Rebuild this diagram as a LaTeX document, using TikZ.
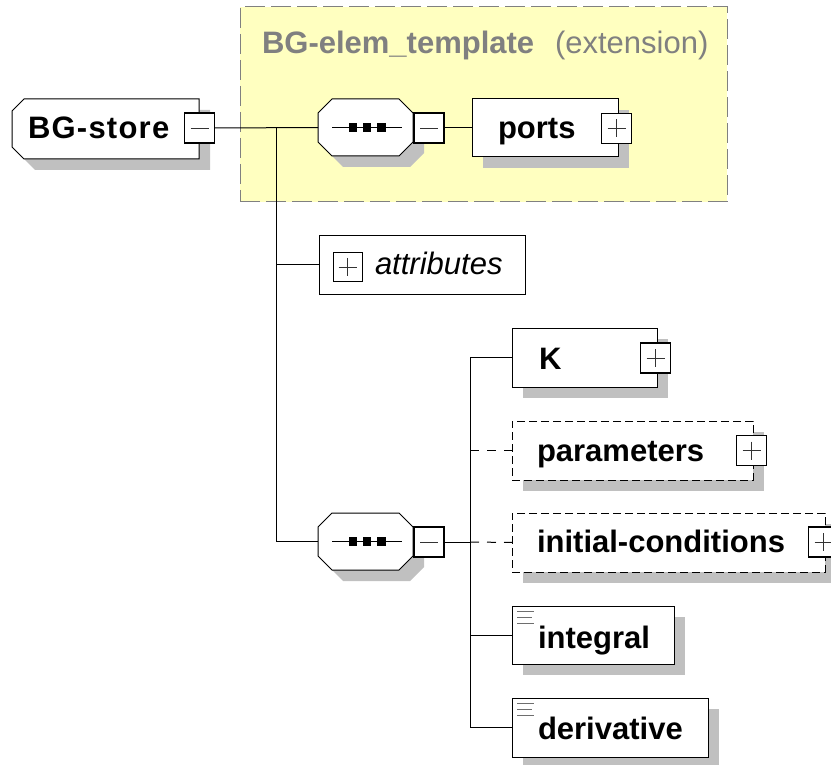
\documentclass[tikz,border=0pt]{standalone}
\usepackage{fontspec}
\setmainfont{Liberation Sans}
\usetikzlibrary{calc,shadows}
\definecolor{shadowgray}{RGB}{192,192,192}
\definecolor{extyellow}{RGB}{255,255,192}
\definecolor{titlegray}{RGB}{128,128,128}
\definecolor{iconline}{RGB}{110,110,110}
\newcommand\myoctagon[3]{% name, cut-left, cut-right
  ($(#1.north west)+(#2,0)$) -- ($(#1.north east)+(-#3,0)$) -- ($(#1.north east)+(0,#3)$) --
  ($(#1.south east)+(0,-#3)$) -- ($(#1.south east)+(-#3,0)$) -- ($(#1.south west)+(#2,0)$) --
  ($(#1.south west)+(0,-#2)$) -- ($(#1.north west)+(0,#2)$) -- cycle}
\begin{document}
\begin{tikzpicture}[x=1pt,y=-1pt,
  every node/.style={inner sep=0pt,outer sep=0pt},
  frame/.style={rectangle,draw=none,anchor=north west},
  elem/.style={rectangle,draw=black,line width=1pt,fill=white,anchor=north west},
  optelem/.style={elem,dash pattern=on 8pt off 4pt},
  shad/.style={general shadow={fill=shadowgray,shadow xshift=11pt,shadow yshift=-11pt}},
  octa/.style={draw=black,line width=1pt,fill=white,shad},
  smallbox/.style={rectangle,draw=black,line width=1.4pt,fill=white,minimum width=30pt,minimum height=30pt},
  sign/.style={line width=0.8pt,black!80},
  txt/.style={anchor=base west,font=\fontsize{31}{37}\selectfont\bfseries},
  conn/.style={line width=1pt,black},
  optconn/.style={conn,dash pattern=on 9pt off 8pt},
  dot/.style={fill=black,minimum width=8.5pt,minimum height=8.5pt,rectangle}
]
\useasboundingbox (0,0) rectangle (831,765);
\clip (0,0) rectangle (831,765);
\fill[white] (0,0) rectangle (831,765);

% extension area
\node[frame,fill=extyellow,draw=titlegray,line width=1pt,dash pattern=on 20pt off 6pt,
      minimum width=487pt,minimum height=195pt] (ext) at (240,7) {};
\node[txt,text=titlegray] (exttitle) at (262,54) {BG-elem\_template};
\node[txt,text=titlegray,font=\fontsize{31}{37}\selectfont] (extkind) at (555,54) {(extension)};

% BG-store
\node[frame,minimum width=187pt,minimum height=60pt] (store) at (12,99) {};
\filldraw[octa] \myoctagon{store}{12}{0};
\node[txt] (storetxt) at (28,139) {\addfontfeatures{LetterSpace=4}BG-store};
\node[smallbox] (storem) at (199.5,128) {};
\draw[sign] ($(storem.center)+(-9,0)$) -- ($(storem.center)+(9,0)$);

% top sequence
\node[frame,minimum width=95pt,minimum height=57pt] (seq1) at (318,99) {};
\filldraw[octa] \myoctagon{seq1}{14}{14};
\draw[line width=1pt] ($(seq1.west)+(14,0)$) -- ($(seq1.east)+(-11,0)$);
\node[dot] (s1a) at (353,127.5) {};
\node[dot] (s1b) at (367,127.5) {};
\node[dot] (s1c) at (381.5,127.5) {};
\node[smallbox] (seq1m) at (429,128) {};
\draw[sign] ($(seq1m.center)+(-9,0)$) -- ($(seq1m.center)+(9,0)$);

% ports
\node[elem,shad,minimum width=146pt,minimum height=58pt] (ports) at (472,99) {};
\node[txt] (portstxt) at (498,139) {ports};
\node[smallbox] (portsp) at (616.5,128.5) {};
\draw[sign] ($(portsp.center)+(-9,0)$) -- ($(portsp.center)+(9,0)$);
\draw[sign] ($(portsp.center)+(0,-9)$) -- ($(portsp.center)+(0,9)$);

% attributes
\node[elem,minimum width=206pt,minimum height=58pt] (attr) at (319,236) {};
\node[smallbox,line width=1pt,minimum width=29pt,minimum height=28pt] (attrp) at (347.5,267) {};
\draw[sign] ($(attrp.center)+(-9,0)$) -- ($(attrp.center)+(9,0)$);
\draw[sign] ($(attrp.center)+(0,-9)$) -- ($(attrp.center)+(0,9)$);
\node[txt,font=\fontsize{31}{37}\selectfont\itshape] (attrtxt) at (375,274) {attributes};

% bottom sequence
\node[frame,minimum width=95pt,minimum height=57pt] (seq2) at (318,513) {};
\filldraw[octa] \myoctagon{seq2}{14}{14};
\draw[line width=1pt] ($(seq2.west)+(14,0)$) -- ($(seq2.east)+(-11,0)$);
\node[dot] (s2a) at (353,541.5) {};
\node[dot] (s2b) at (367,541.5) {};
\node[dot] (s2c) at (381.5,541.5) {};
\node[smallbox] (seq2m) at (429,542) {};
\draw[sign] ($(seq2m.center)+(-9,0)$) -- ($(seq2m.center)+(9,0)$);

% K
\node[elem,shad,minimum width=145pt,minimum height=59pt] (K) at (512,328) {};
\node[txt] (Ktxt) at (539,369) {K};
\node[smallbox] (Kp) at (655.5,358) {};
\draw[sign] ($(Kp.center)+(-9,0)$) -- ($(Kp.center)+(9,0)$);
\draw[sign] ($(Kp.center)+(0,-9)$) -- ($(Kp.center)+(0,9)$);

% parameters
\node[optelem,shad,minimum width=241pt,minimum height=59pt] (param) at (512,421) {};
\node[txt] (paramtxt) at (537,461) {parameters};
\node[smallbox] (paramp) at (751.5,450.5) {};
\draw[sign] ($(paramp.center)+(-9,0)$) -- ($(paramp.center)+(9,0)$);
\draw[sign] ($(paramp.center)+(0,-9)$) -- ($(paramp.center)+(0,9)$);

% initial-conditions
\node[optelem,shad,minimum width=313pt,minimum height=59pt] (init) at (512,513) {};
\node[txt] (inittxt) at (537,552) {initial-conditions};
\node[smallbox] (initp) at (823.5,542) {};
\draw[sign] ($(initp.center)+(-9,0)$) -- ($(initp.center)+(9,0)$);
\draw[sign] ($(initp.center)+(0,-9)$) -- ($(initp.center)+(0,9)$);

% integral
\node[elem,shad,minimum width=162pt,minimum height=58pt] (integ) at (512,606) {};
\node[txt] (integtxt) at (538,648) {integral};
\draw[iconline,line width=1pt] ($(integ.north west)+(5,5)$) -- +(17,0)
  ($(integ.north west)+(5,11)$) -- +(15,0) ($(integ.north west)+(5,17)$) -- +(17,0);

% derivative
\node[elem,shad,minimum width=196pt,minimum height=59pt] (deriv) at (512,698) {};
\node[txt] (derivtxt) at (538,739) {derivative};
\draw[iconline,line width=1pt] ($(deriv.north west)+(5,5)$) -- +(17,0)
  ($(deriv.north west)+(5,11)$) -- +(15,0) ($(deriv.north west)+(5,17)$) -- +(17,0);

% connectors
\coordinate (j1) at (276,128);
\coordinate (j2) at (470,542);
\draw[conn] (storem.east) -- (seq1.west);
\draw[conn] (seq1m.east) -- (ports.west);
\draw[conn] (j1) |- (seq2.west);
\draw[conn] (j1) |- (attr.west);
\draw[conn] (seq2m.east) -- (j2);
\draw[conn] (j2) |- (K.west);
\draw[conn] (j2) |- (deriv.west);
\draw[conn] (j2 |- integ.west) -- (integ.west);
\draw[optconn] (j2 |- param.west) -- (param.west);
\draw[optconn] (j2) -- (init.west);
\end{tikzpicture}
\end{document}
